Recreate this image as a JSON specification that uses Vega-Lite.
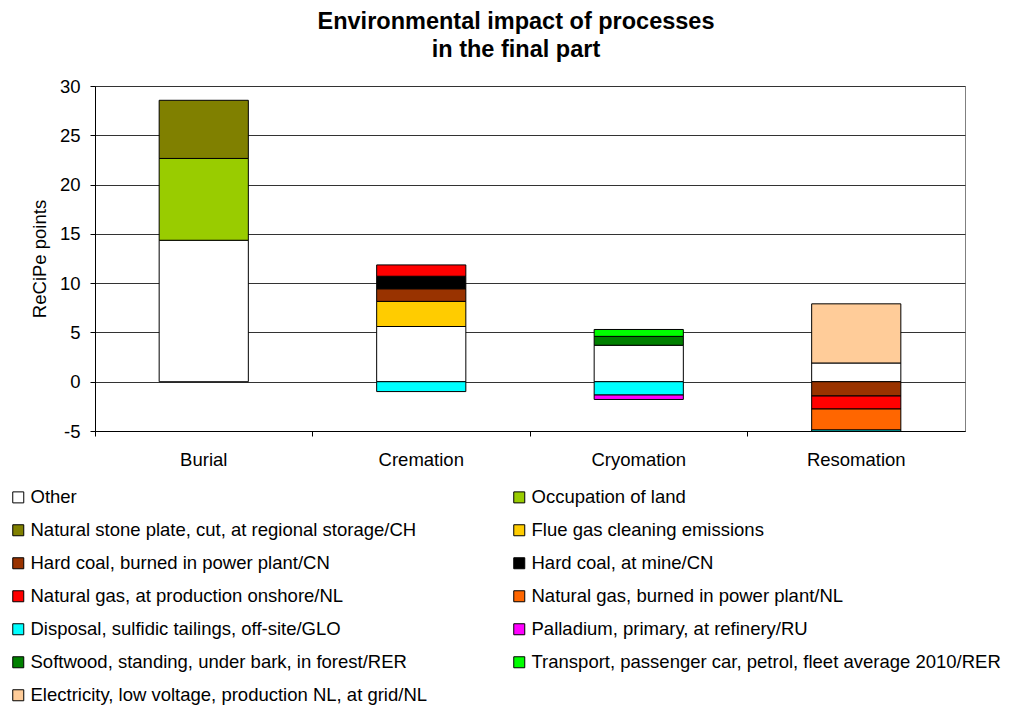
{
  "$schema": "https://vega.github.io/schema/vega-lite/v6.json",
  "width": 870,
  "height": 345,
  "autosize": {"type": "none"},
  "padding": {"left": 95, "top": 86, "right": 46, "bottom": 274},
  "background": "white",
  "config": {
    "font": "Liberation Sans",
    "view": {"stroke": "#808080", "strokeWidth": 1}
  },
  "title": {
    "text": ["Environmental impact of processes", "in the final part"],
    "fontSize": 23.5,
    "fontWeight": "bold",
    "font": "Liberation Sans",
    "color": "black",
    "anchor": "middle",
    "dx": -14,
    "offset": 16,
    "lineHeight": 28
  },
  "data": {
    "values": [
      {"process": "Burial", "component": "Other", "value": 14.35, "order": 1},
      {"process": "Burial", "component": "Occupation of land", "value": 8.3, "order": 2},
      {"process": "Burial", "component": "Natural stone plate, cut, at regional storage/CH", "value": 5.9, "order": 3},
      {"process": "Cremation", "component": "Other", "value": 5.6, "order": 1},
      {"process": "Cremation", "component": "Flue gas cleaning emissions", "value": 2.55, "order": 4},
      {"process": "Cremation", "component": "Hard coal, burned in power plant/CN", "value": 1.28, "order": 5},
      {"process": "Cremation", "component": "Hard coal, at mine/CN", "value": 1.27, "order": 6},
      {"process": "Cremation", "component": "Natural gas, at production onshore/NL", "value": 1.15, "order": 7},
      {"process": "Cremation", "component": "Disposal, sulfidic tailings, off-site/GLO", "value": -1.0, "order": 9},
      {"process": "Cryomation", "component": "Other", "value": 3.7, "order": 1},
      {"process": "Cryomation", "component": "Softwood, standing, under bark, in forest/RER", "value": 0.9, "order": 11},
      {"process": "Cryomation", "component": "Transport, passenger car, petrol, fleet average 2010/RER", "value": 0.7, "order": 12},
      {"process": "Cryomation", "component": "Disposal, sulfidic tailings, off-site/GLO", "value": -1.35, "order": 9},
      {"process": "Cryomation", "component": "Palladium, primary, at refinery/RU", "value": -0.45, "order": 10},
      {"process": "Resomation", "component": "Other", "value": 1.9, "order": 1},
      {"process": "Resomation", "component": "Electricity, low voltage, production NL, at grid/NL", "value": 6.0, "order": 13},
      {"process": "Resomation", "component": "Hard coal, burned in power plant/CN", "value": -1.45, "order": 5},
      {"process": "Resomation", "component": "Natural gas, at production onshore/NL", "value": -1.32, "order": 7},
      {"process": "Resomation", "component": "Natural gas, burned in power plant/NL", "value": -2.13, "order": 8},
      {"process": "Resomation", "component": "Disposal, sulfidic tailings, off-site/GLO", "value": -0.6, "order": 9}
    ]
  },
  "mark": {"type": "bar", "stroke": "black", "strokeWidth": 1, "width": {"band": 0.41}, "clip": true},
  "encoding": {
    "x": {
      "field": "process",
      "type": "nominal",
      "sort": ["Burial", "Cremation", "Cryomation", "Resomation"],
      "scale": {"paddingInner": 0, "paddingOuter": 0},
      "axis": {
        "title": null,
        "labelAngle": 0,
        "labelFontSize": 18.5,
        "labelColor": "black",
        "labelPadding": 14,
        "bandPosition": 0,
        "tickSize": 5,
        "tickColor": "black",
        "domainColor": "black",
        "grid": false
      }
    },
    "y": {
      "field": "value",
      "type": "quantitative",
      "stack": "zero",
      "scale": {"domain": [-5, 30], "nice": false, "zero": false},
      "axis": {
        "title": "ReCiPe points",
        "titleFontSize": 18.5,
        "titleFontWeight": "normal",
        "titleColor": "black",
        "titlePadding": 10,
        "values": [-5, 0, 5, 10, 15, 20, 25, 30],
        "labelExpr": "replace(datum.label, '\u2212', '-')",
        "labelFontSize": 18.5,
        "labelColor": "black",
        "labelPadding": 10,
        "tickSize": 5,
        "tickColor": "black",
        "domainColor": "black",
        "gridColor": "#333333",
        "gridOpacity": 1
      }
    },
    "order": {"field": "order", "type": "quantitative"},
    "color": {
      "field": "component",
      "type": "nominal",
      "scale": {
        "domain": [
          "Other",
          "Natural stone plate, cut, at regional storage/CH",
          "Hard coal, burned in power plant/CN",
          "Natural gas, at production onshore/NL",
          "Disposal, sulfidic tailings, off-site/GLO",
          "Softwood, standing, under bark, in forest/RER",
          "Electricity, low voltage, production NL, at grid/NL",
          "Occupation of land",
          "Flue gas cleaning emissions",
          "Hard coal, at mine/CN",
          "Natural gas, burned in power plant/NL",
          "Palladium, primary, at refinery/RU",
          "Transport, passenger car, petrol, fleet average 2010/RER"
        ],
        "range": ["#FFFFFF", "#808000", "#993300", "#FF0000", "#00FFFF", "#008000", "#FFCC99", "#99CC00", "#FFCC00", "#000000", "#FF6600", "#FF00FF", "#00FF00"]
      },
      "legend": {
        "title": null,
        "orient": "none",
        "legendX": -86,
        "legendY": 402,
        "columns": 2,
        "columnPadding": 82,
        "rowPadding": 14,
        "symbolType": "square",
        "symbolSize": 121,
        "symbolStrokeColor": "black",
        "symbolStrokeWidth": 1,
        "labelFontSize": 18.5,
        "labelColor": "black",
        "labelOffset": 3,
        "labelLimit": 700
      }
    }
  }
}
